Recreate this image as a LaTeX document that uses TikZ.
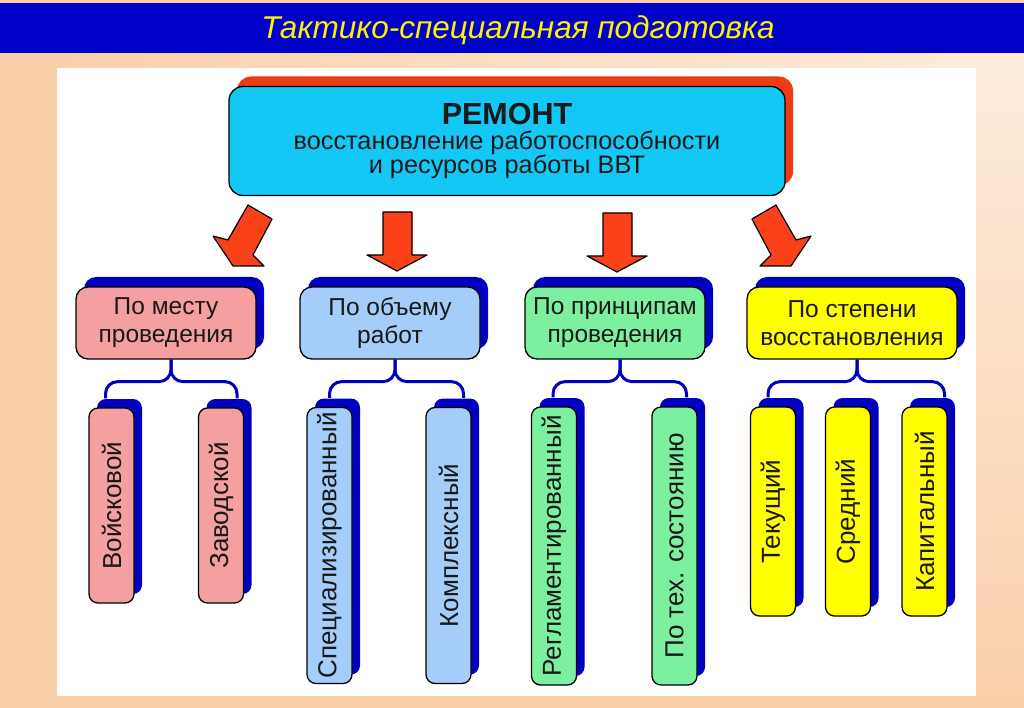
\documentclass[tikz,border=0pt]{standalone}
\usepackage{fontspec}
\usepackage{graphicx}
\setmainfont{Liberation Sans}
\usetikzlibrary{shadows,calc}

\definecolor{peach}{RGB}{250,208,170}
\definecolor{peachlight}{RGB}{253,236,220}
\definecolor{headblue}{RGB}{0,0,200}
\definecolor{shblue}{RGB}{0,0,190}
\definecolor{topcyan}{RGB}{20,200,245}
\definecolor{topred}{RGB}{235,60,20}
\definecolor{arrowred}{RGB}{250,65,25}
\definecolor{pinkbox}{RGB}{245,160,160}
\definecolor{bluebox}{RGB}{165,205,250}
\definecolor{greenbox}{RGB}{125,240,160}
\definecolor{yellowbox}{RGB}{255,255,0}
\definecolor{txt}{RGB}{25,25,25}

\begin{document}
\begin{tikzpicture}[x=1pt,y=-1pt]
	\tikzstyle{topbox}=[draw=black,line width=1.3pt,fill=topcyan,rounded corners=14pt,minimum width=556pt,minimum height=109pt,align=center,text=txt,drop shadow={opacity=1,fill=topred,shadow xshift=8pt,shadow yshift=10pt}]
	\tikzstyle{cat}=[draw=black,line width=1.3pt,rounded corners=12pt,minimum width=180pt,minimum height=72pt,align=center,text=txt,font=\fontsize{24.5}{28}\selectfont,drop shadow={opacity=1,fill=shblue,shadow xshift=8pt,shadow yshift=10pt}]
	\tikzstyle{kid}=[draw=black,line width=1.3pt,rounded corners=9pt,minimum width=45pt,inner sep=0pt,text=txt,font=\fontsize{26}{28}\selectfont,drop shadow={opacity=1,fill=shblue,shadow xshift=8pt,shadow yshift=9pt}]
	\tikzstyle{brace}=[draw=shblue,line width=3pt,rounded corners=12pt]
	\tikzstyle{bigarrow}=[fill=arrowred,draw=black,line width=1.2pt,line join=round]
	\useasboundingbox (0,0) rectangle (1024,708);
	
	% background and title bar
	\fill[peach] (0,0) rectangle (1024,708);
	\shade[top color=peachlight,bottom color=peach] (976,53) rectangle (1024,708);
	\shade[left color=peach,right color=peachlight] (57,53) rectangle (1024,68);
	\fill[white] (57,68) rectangle (976,696);
	\fill[headblue] (0,3) rectangle (1024,53);
	\node[](title)at(518,30){\fontsize{31.5}{34}\selectfont\itshape\textcolor{yellow}{Тактико-специальная подготовка}};
	
	\node[topbox](rem)at(507,141){{\bfseries\fontsize{30.5}{30}\selectfont РЕМОНТ}\\[5pt]
		\fontsize{25.3}{25}\selectfont восстановление работоспособности\\
		\fontsize{25.3}{25}\selectfont и ресурсов работы ВВТ};
	
	\draw[bigarrow] (248,205) -- (272,219) -- (253,255) -- (264,266) -- (233,266) -- (213,236) -- (228,240) -- cycle;
	\draw[bigarrow] (383,212) -- (412,212) -- (412,255) -- (427,255) -- (397,271) -- (367,255) -- (383,255) -- cycle;
	\draw[bigarrow] (603,213) -- (632,213) -- (632,256) -- (647,256) -- (617,272) -- (587,256) -- (603,256) -- cycle;
	\draw[bigarrow] (776,205) -- (752,219) -- (771,255) -- (760,266) -- (791,266) -- (811,236) -- (796,240) -- cycle;
	
	\node[cat,fill=pinkbox](c1)at(166,323){По месту\\проведения};
	\node[cat,fill=bluebox](c2)at(390,323){По объему\\работ};
	\node[cat,fill=greenbox](c3)at(615,323){По принципам\\проведения};
	\node[cat,fill=yellowbox,minimum width=210pt](c4)at(852,323){По степени\\восстановления};
	
	\node[kid,fill=pinkbox,minimum height=195pt](k11)at(111.5,505.5){\rotatebox{90}{Войсковой}};
	\node[kid,fill=pinkbox,minimum height=195pt](k12)at(221,505.5){\rotatebox{90}{Заводской}};
	\node[kid,fill=bluebox,minimum height=276pt](k21)at(329.5,545.5){\rotatebox{90}{Специализированный}};
	\node[kid,fill=bluebox,minimum height=276pt](k22)at(448.5,545.5){\rotatebox{90}{Комплексный}};
	\node[kid,fill=greenbox,minimum height=278pt](k31)at(554,546){\rotatebox{90}{Регламентированный}};
	\node[kid,fill=greenbox,minimum height=278pt](k32)at(674.5,546){\rotatebox{90}{По тех. состоянию}};
	\node[kid,fill=yellowbox,minimum height=209pt](k41)at(773,511.5){\rotatebox{90}{Текущий}};
	\node[kid,fill=yellowbox,minimum height=209pt](k42)at(848,511.5){\rotatebox{90}{Средний}};
	\node[kid,fill=yellowbox,minimum height=209pt](k43)at(924.5,511.5){\rotatebox{90}{Капитальный}};
	
	\foreach \p/\k/\dx in {c1/k11/-6,c1/k12/16,c2/k21/0,c2/k22/15,c3/k31/-1,c3/k32/12,c4/k41/-5,c4/k43/20}{
		\draw[brace] ($(\p.south)+(5,0)$) -- ++(0,22) -| ($(\k.north)+(\dx,-9)$);
	};
\end{tikzpicture}
\end{document}
